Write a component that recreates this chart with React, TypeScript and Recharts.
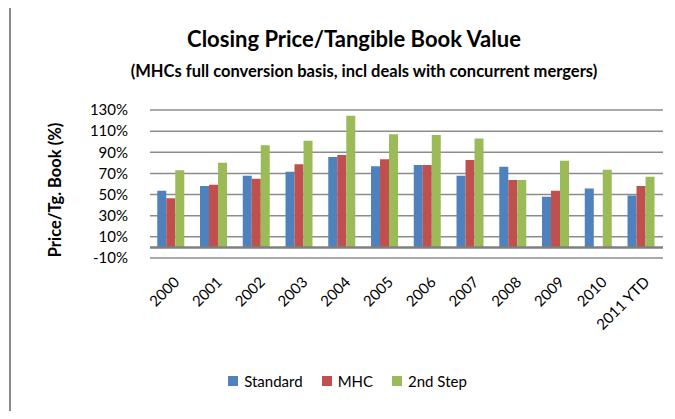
import React from "react";
import { BarChart, Bar, XAxis, YAxis, CartesianGrid, ReferenceLine } from "recharts";

const categories = ["2000", "2001", "2002", "2003", "2004", "2005", "2006", "2007", "2008", "2009", "2010", "2011 YTD"];
const standard = [53.5, 58, 67.7, 71.5, 85.6, 76.8, 78, 67.7, 76.2, 47.9, 55.7, 49.1];
const mhc = [46.6, 59.2, 64.9, 78.7, 87.5, 83.5, 78, 82.8, 63.9, 53.5, null, 58];
const secondStep = [73, 80, 96.7, 101, 124.6, 107, 106.4, 103, 63.9, 81.9, 73.4, 66.8];
const yTicks = [-10, 10, 30, 50, 70, 90, 110, 130];

const seriesNames = ["Standard", "MHC", "2nd Step"];
const seriesColors = ["#4F81BD", "#C0504D", "#9BBB59"];
const seriesKeys = ["standard", "mhc", "secondStep"];

const data = categories.map((c, i) => ({
  name: c,
  standard: standard[i],
  mhc: mhc[i],
  secondStep: secondStep[i],
}));

const FONT = "Lato, 'Open Sans', sans-serif";

const XTick = (props: any) => {
  const { x, y, payload } = props;
  const ax = x + 9;
  const ay = y + 25;
  return (
    <text
      x={ax}
      y={ay}
      textAnchor="end"
      transform={`rotate(-45, ${ax}, ${ay})`}
      fontFamily={FONT}
      fontSize={15}
      fill="#000"
    >
      {payload.value}
    </text>
  );
};

export default function App() {
  return (
    <div style={{ position: "relative", width: 675, height: 419, margin: -8, overflow: "hidden", background: "#fff" }}>
      <div
        style={{
          position: "absolute",
          left: 9,
          top: 4,
          width: 700,
          height: 415,
          boxSizing: "border-box",
          border: "2px solid #8a8a8a",
        }}
      />
      <div style={{ position: "absolute", left: 0, top: 0 }}>
        <BarChart
          width={675}
          height={419}
          data={data}
          margin={{ top: 110, right: 12, bottom: 131, left: 0 }}
          barCategoryGap="17%"
          barGap={0}
        >
          <CartesianGrid vertical={false} stroke="#8c8c8c" strokeWidth={1.5} />
          <XAxis
            dataKey="name"
            height={30}
            axisLine={false}
            tickLine={false}
            tickSize={0}
            tickMargin={0}
            interval={0}
            tick={<XTick />}
          />
          <YAxis
            width={150}
            domain={[-10, 130]}
            ticks={yTicks}
            interval={0}
            allowDataOverflow
            axisLine={false}
            tickLine={false}
            tickSize={0}
            tickMargin={22}
            tickFormatter={(v: number) => `${v}%`}
            tick={{ fontFamily: FONT, fontSize: 15, fill: "#000" }}
          />
          {seriesKeys.map((k, i) => (
            <Bar key={k} dataKey={k} name={seriesNames[i]} fill={seriesColors[i]} isAnimationActive={false} />
          ))}
          <ReferenceLine y={0} stroke="#7f7f7f" strokeWidth={2.5} ifOverflow="extendDomain" />
        </BarChart>
      </div>
      <svg width={675} height={419} style={{ position: "absolute", left: 0, top: 0, pointerEvents: "none" }}>
        <text x={354} y={47} textAnchor="middle" fontFamily={FONT} fontWeight="bold" fontSize={22} fill="#000">
          Closing Price/Tangible Book Value
        </text>
        <text x={364} y={77} textAnchor="middle" fontFamily={FONT} fontWeight="bold" fontSize={16.5} fill="#000">
          (MHCs full conversion basis, incl deals with concurrent mergers)
        </text>
        <text
          x={61}
          y={190}
          textAnchor="middle"
          transform="rotate(-90, 61, 190)"
          fontFamily={FONT}
          fontWeight="bold"
          fontSize={16.5}
          fill="#000"
        >
          Price/Tg. Book (%)
        </text>
      </svg>
      <div
        style={{
          position: "absolute",
          left: 0,
          top: 372,
          width: 675,
          display: "flex",
          justifyContent: "center",
          paddingLeft: 20,
          boxSizing: "border-box",
          fontFamily: FONT,
          fontSize: 15,
          color: "#000",
        }}
      >
        {seriesNames.map((n, i) => (
          <div key={n} style={{ display: "flex", alignItems: "center", marginRight: i < 2 ? 19 : 0 }}>
            <div style={{ width: 10, height: 10, background: seriesColors[i], marginRight: 6 }} />
            <span>{n}</span>
          </div>
        ))}
      </div>
    </div>
  );
}
